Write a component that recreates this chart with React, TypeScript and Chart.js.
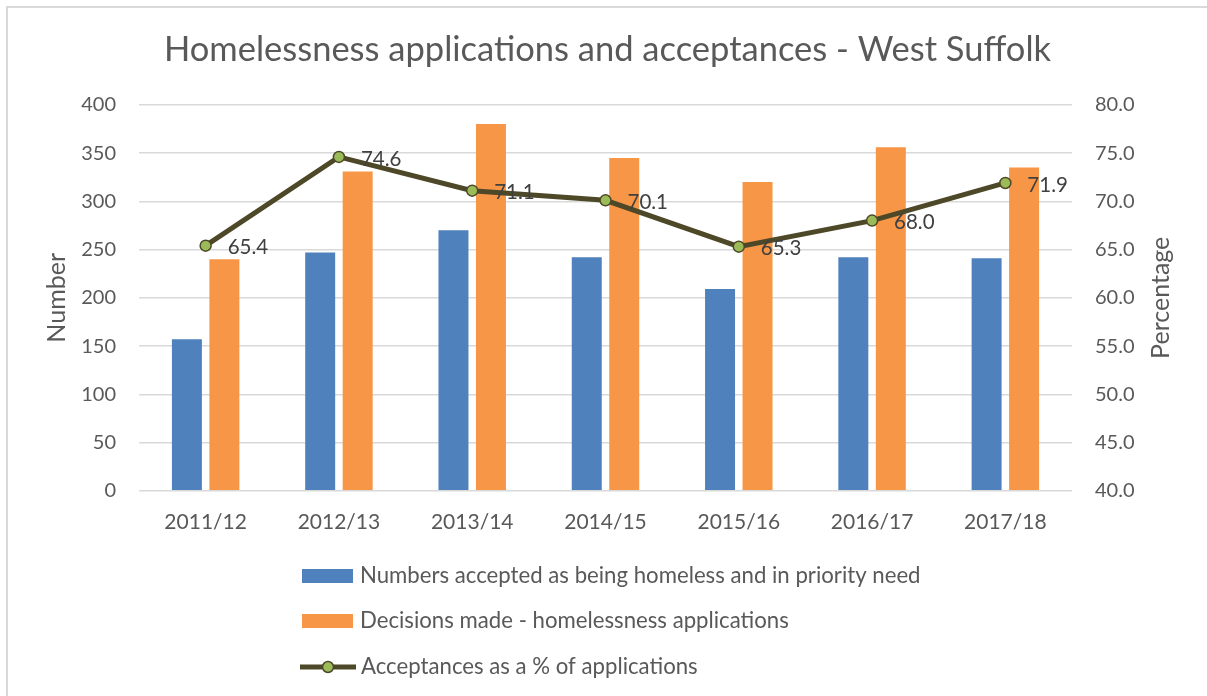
import React, { useEffect, useRef } from "react";
import { Chart, registerables } from "chart.js";
Chart.register(...registerables);

const categories = ["2011/12", "2012/13", "2013/14", "2014/15", "2015/16", "2016/17", "2017/18"];
const acceptedNumbers = [157, 247, 270, 242, 209, 242, 241];
const decisionsMade = [240, 331, 380, 345, 320, 356, 335];
const acceptancePct = [65.4, 74.6, 71.1, 70.1, 65.3, 68.0, 71.9];
const leftTicks = [0, 50, 100, 150, 200, 250, 300, 350, 400];
const rightTicks = [40, 45, 50, 55, 60, 65, 70, 75, 80];

const seriesNames = [
  "Numbers accepted as being homeless and in priority need",
  "Decisions made - homelessness applications",
  "Acceptances as a % of applications",
];
const titleText = "Homelessness applications and acceptances - West Suffolk";
const leftAxisTitle = "Number";
const rightAxisTitle = "Percentage";

const FONT = "Lato, 'Open Sans', sans-serif";
const TEXT = "#595959";
const BLUE = "#4F81BD";
const ORANGE = "#F79646";
const LINE = "#4D4828";
const GREEN = "#9BBB59";
const GRID = "#D9D9D9";

const overlayPlugin = {
  id: "overlay",
  afterDatasetsDraw(chart: any) {
    const ctx = chart.ctx;
    const meta = chart.getDatasetMeta(2);
    ctx.save();
    ctx.font = `20.5px ${FONT}`;
    ctx.fillStyle = "#404040";
    ctx.textAlign = "left";
    ctx.textBaseline = "middle";
    meta.data.forEach((pt: any, i: number) => {
      ctx.fillText(acceptancePct[i].toFixed(1), pt.x + 22, pt.y + 2);
    });
    ctx.restore();
  },
  afterDraw(chart: any) {
    const ctx = chart.ctx;
    const area = chart.chartArea;
    const midY = (area.top + area.bottom) / 2;
    ctx.save();
    // axis titles
    ctx.font = `25px ${FONT}`;
    ctx.fillStyle = TEXT;
    ctx.textAlign = "center";
    ctx.textBaseline = "middle";
    ctx.save();
    ctx.translate(49, midY);
    ctx.rotate(-Math.PI / 2);
    ctx.fillText(leftAxisTitle, 0, 0);
    ctx.restore();
    ctx.save();
    ctx.translate(1153, midY);
    ctx.rotate(-Math.PI / 2);
    ctx.fillText(rightAxisTitle, 0, 0);
    ctx.restore();

    // legend
    const rows = [568, 613, 659];
    ctx.font = `22.2px ${FONT}`;
    ctx.textAlign = "left";
    ctx.fillStyle = BLUE;
    ctx.fillRect(294, rows[0] - 7, 51, 14);
    ctx.fillStyle = ORANGE;
    ctx.fillRect(294, rows[1] - 7, 51, 14);
    ctx.strokeStyle = LINE;
    ctx.lineWidth = 5;
    ctx.beginPath();
    ctx.moveTo(292, rows[2]);
    ctx.lineTo(348, rows[2]);
    ctx.stroke();
    ctx.beginPath();
    ctx.arc(320, rows[2], 5.5, 0, Math.PI * 2);
    ctx.fillStyle = GREEN;
    ctx.fill();
    ctx.lineWidth = 1.5;
    ctx.stroke();
    ctx.fillStyle = TEXT;
    ctx.fillText(seriesNames[0], 352, rows[0]);
    ctx.fillText(seriesNames[1], 352, rows[1]);
    ctx.fillText(seriesNames[2], 353, rows[2]);
    ctx.restore();
  },
};

export default function App() {
  const ref = useRef<HTMLCanvasElement>(null);
  useEffect(() => {
    document.body.style.overflow = "hidden";
    const chart = new Chart(ref.current!, {
      type: "bar",
      data: {
        labels: categories,
        datasets: [
          {
            type: "bar",
            label: seriesNames[0],
            data: acceptedNumbers,
            backgroundColor: BLUE,
            yAxisID: "y",
            order: 1,
            categoryPercentage: 0.5625,
            barPercentage: 0.8,
          },
          {
            type: "bar",
            label: seriesNames[1],
            data: decisionsMade,
            backgroundColor: ORANGE,
            yAxisID: "y",
            order: 1,
            categoryPercentage: 0.5625,
            barPercentage: 0.8,
          },
          {
            type: "line",
            label: seriesNames[2],
            data: acceptancePct,
            borderColor: LINE,
            borderWidth: 5,
            pointRadius: 5.5,
            pointBackgroundColor: GREEN,
            pointBorderColor: LINE,
            pointBorderWidth: 1.5,
            tension: 0,
            yAxisID: "y1",
            order: 0,
          } as any,
        ],
      },
      options: {
        responsive: false,
        animation: false,
        layout: { padding: { left: 0, right: 0, top: 0, bottom: 142 } },
        plugins: {
          legend: { display: false },
          tooltip: { enabled: false },
          title: {
            display: true,
            text: titleText,
            color: TEXT,
            font: { family: FONT, size: 34.5, weight: "normal" },
            padding: { top: 21, bottom: 34.4 },
          },
        },
        scales: {
          x: {
            grid: { display: false, drawTicks: false },
            border: { display: false },
            ticks: { color: TEXT, font: { family: FONT, size: 21 }, padding: 19, maxRotation: 0 },
          },
          y: {
            position: "left",
            min: 0,
            max: 400,
            afterBuildTicks: (s: any) => {
              s.ticks = leftTicks.map((v) => ({ value: v }));
            },
            afterFit: (s: any) => {
              s.width = 131;
            },
            ticks: { color: TEXT, font: { family: FONT, size: 20 }, padding: 23 },
            grid: { color: GRID, lineWidth: 1.5, drawTicks: false },
            border: { display: false },
          },
          y1: {
            position: "right",
            min: 40,
            max: 80,
            afterBuildTicks: (s: any) => {
              s.ticks = rightTicks.map((v) => ({ value: v }));
            },
            afterFit: (s: any) => {
              s.width = 135;
            },
            ticks: {
              color: TEXT,
              font: { family: FONT, size: 20 },
              padding: 23,
              callback: (v: any) => Number(v).toFixed(1),
            },
            grid: { display: false, drawTicks: false },
            border: { display: false },
          },
        },
      } as any,
      plugins: [overlayPlugin],
    });
    return () => chart.destroy();
  }, []);
  return (
    <div
      style={{
        position: "absolute",
        left: 6,
        top: 6,
        width: 1201,
        height: 690,
        boxSizing: "border-box",
        borderLeft: "2px solid #D9D9D9",
        borderTop: "2px solid #D9D9D9",
        background: "#fff",
      }}
    >
      <canvas ref={ref} width={1199} height={688} style={{ display: "block" }} />
    </div>
  );
}
